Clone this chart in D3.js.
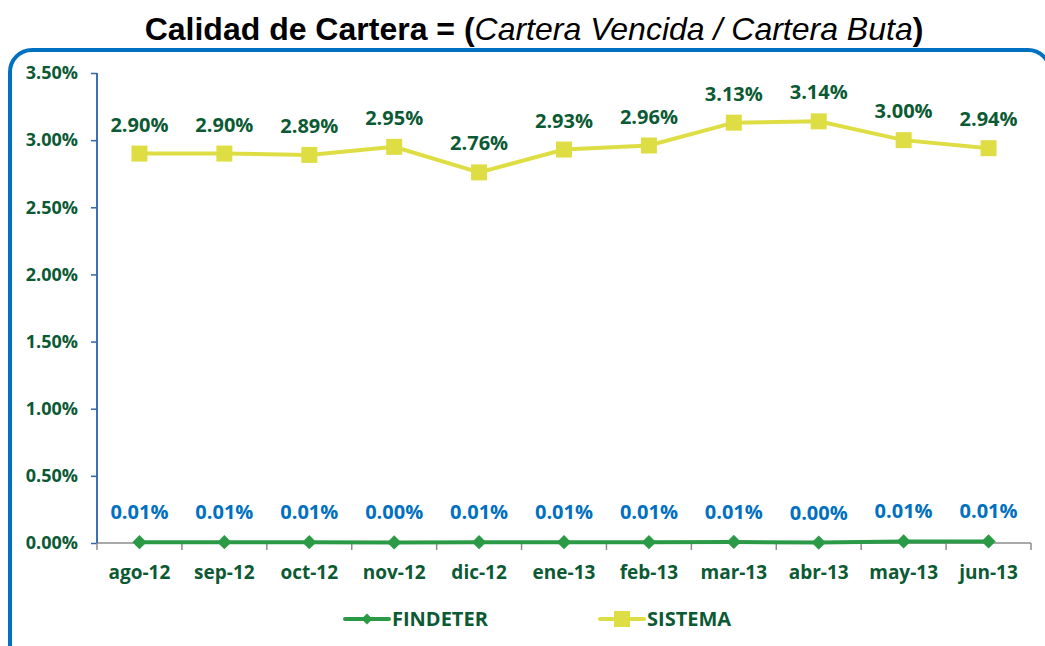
<!DOCTYPE html>
<html>
<head>
<meta charset="utf-8">
<script src="https://cdn.jsdelivr.net/npm/d3@7"></script>
<style>
body { margin: 0; background: #fff; }
svg { display: block; }
</style>
</head>
<body>
<svg id="chart"></svg>
<script>
var months = ["ago-12","sep-12","oct-12","nov-12","dic-12","ene-13","feb-13","mar-13","abr-13","may-13","jun-13"];
var sistema = [2.90, 2.90, 2.89, 2.95, 2.76, 2.93, 2.96, 3.13, 3.14, 3.00, 2.94];
var findeter = [0.006, 0.006, 0.006, 0.004, 0.006, 0.006, 0.006, 0.008, 0.003, 0.012, 0.012];
var yTicks = [0, 0.5, 1, 1.5, 2, 2.5, 3, 3.5];

var W = 1045, H = 646;
var margins = {top: 73, left: 97, right: 14, bottom: 103};
var width = W - margins.left - margins.right;
var height = H - margins.top - margins.bottom;

var font = "'Open Sans', Lato, sans-serif";
var darkGreen = "#0b5a34";
var blue = "#0070c0";
var yellow = "#dede44";
var green = "#2b9a46";

var svg = d3.select("#chart").attr("width", W).attr("height", H);

// title
var title = svg.append("text")
  .attr("x", 534).attr("y", 40)
  .attr("text-anchor", "middle")
  .style("font-family", "'Liberation Sans', Arial, sans-serif")
  .style("font-size", "32px")
  .style("fill", "#000");
title.append("tspan").style("font-weight", "bold").text("Calidad de Cartera = (");
title.append("tspan").style("font-style", "italic").text("Cartera Vencida / Cartera Buta");
title.append("tspan").style("font-weight", "bold").text(")");

// rounded frame
svg.append("rect")
  .attr("x", 10).attr("y", 50)
  .attr("width", 1040).attr("height", 620)
  .attr("rx", 22)
  .style("fill", "none")
  .style("stroke", blue)
  .style("stroke-width", 4);

var g = svg.append("g").attr("transform", "translate(" + margins.left + "," + margins.top + ")");

var xScale = d3.scaleBand().domain(months).range([0, width]);
var yScale = d3.scaleLinear().domain([0, 3.5]).range([height, 0]);
var cx = function(m){ return xScale(m) + xScale.bandwidth() / 2; };

// y axis
var yAxis = d3.axisLeft(yScale).tickValues(yTicks).tickSize(6).tickFormat(function(d){ return d.toFixed(2) + "%"; });
var yG = g.append("g").call(yAxis);
yG.select(".domain").attr("stroke", "#3565a8").attr("stroke-width", 1.5).attr("d", "M0,0V" + height);
yG.selectAll(".tick line").attr("stroke", "#3565a8").attr("stroke-width", 1.5);
yG.selectAll(".tick text")
  .attr("x", -19)
  .style("font-family", font).style("font-weight", "bold").style("font-size", "18px")
  .style("fill", darkGreen);

// x axis
var xG = g.append("g").attr("transform", "translate(0," + height + ")");
xG.append("line").attr("x1", 0).attr("x2", width).attr("stroke", "#8c8c8c").attr("stroke-width", 1.5);
xG.selectAll("line.tk")
  .data(d3.range(months.length + 1))
  .enter().append("line")
  .attr("class", "tk")
  .attr("x1", function(i){ return i * xScale.step(); })
  .attr("x2", function(i){ return i * xScale.step(); })
  .attr("y1", 0).attr("y2", 7)
  .attr("stroke", "#8c8c8c").attr("stroke-width", 1.5);
xG.selectAll("text")
  .data(months)
  .enter().append("text")
  .attr("x", cx)
  .attr("y", 36)
  .attr("text-anchor", "middle")
  .style("font-family", font).style("font-weight", "bold").style("font-size", "19px")
  .style("fill", darkGreen)
  .text(function(d){ return d; });
// redraw y axis line on top
g.append("line").attr("x1", 0).attr("x2", 0).attr("y1", 0).attr("y2", height)
  .attr("stroke", "#3565a8").attr("stroke-width", 1.5);

var line = d3.line().x(function(d, i){ return cx(months[i]); }).y(function(d){ return yScale(d); });

// SISTEMA
g.append("path").datum(sistema).attr("d", line)
  .style("fill", "none").style("stroke", yellow).style("stroke-width", 4);
g.selectAll("rect.sis").data(sistema).enter().append("rect")
  .attr("class", "sis")
  .attr("x", function(d, i){ return cx(months[i]) - 8; })
  .attr("y", function(d){ return yScale(d) - 8; })
  .attr("width", 16).attr("height", 16)
  .style("fill", yellow);
g.selectAll("text.sis").data(sistema).enter().append("text")
  .attr("class", "sis")
  .attr("x", function(d, i){ return cx(months[i]); })
  .attr("y", function(d){ return yScale(d) - 22; })
  .attr("text-anchor", "middle")
  .style("font-family", font).style("font-weight", "bold").style("font-size", "20px")
  .style("fill", darkGreen)
  .text(function(d){ return d.toFixed(2) + "%"; });

// FINDETER
g.append("path").datum(findeter).attr("d", line)
  .style("fill", "none").style("stroke", green).style("stroke-width", 4);
var diamond = d3.symbol().type(d3.symbolDiamond2).size(130);
g.selectAll("path.fin").data(findeter).enter().append("path")
  .attr("class", "fin")
  .attr("d", diamond)
  .attr("transform", function(d, i){ return "translate(" + cx(months[i]) + "," + yScale(d) + ")"; })
  .style("fill", green);
g.selectAll("text.fin").data(findeter).enter().append("text")
  .attr("class", "fin")
  .attr("x", function(d, i){ return cx(months[i]); })
  .attr("y", function(d){ return yScale(d) - 23; })
  .attr("text-anchor", "middle")
  .style("font-family", font).style("font-weight", "bold").style("font-size", "20px")
  .style("fill", blue)
  .text(function(d){ return d.toFixed(2) + "%"; });

// legend
var legend = [
  {name: "FINDETER", color: green, x: 345, marker: "diamond"},
  {name: "SISTEMA", color: yellow, x: 600, marker: "square"}
];
var lg = svg.selectAll("g.leg").data(legend).enter().append("g")
  .attr("class", "leg")
  .attr("transform", function(d){ return "translate(" + d.x + ",619)"; });
lg.append("line").attr("x1", 0).attr("x2", 44)
  .attr("stroke", function(d){ return d.color; }).attr("stroke-width", 4)
  .attr("stroke-linecap", "round");
lg.filter(function(d){ return d.marker == "diamond"; }).append("path")
  .attr("d", d3.symbol().type(d3.symbolDiamond2).size(80))
  .attr("transform", "translate(22,0)")
  .style("fill", green);
lg.filter(function(d){ return d.marker == "square"; }).append("rect")
  .attr("x", 14).attr("y", -8).attr("width", 16).attr("height", 16)
  .style("fill", yellow);
lg.append("text")
  .attr("x", 47).attr("y", 7)
  .style("font-family", font).style("font-weight", "bold").style("font-size", "20px")
  .style("fill", darkGreen)
  .text(function(d){ return d.name; });
</script>
</body>
</html>
